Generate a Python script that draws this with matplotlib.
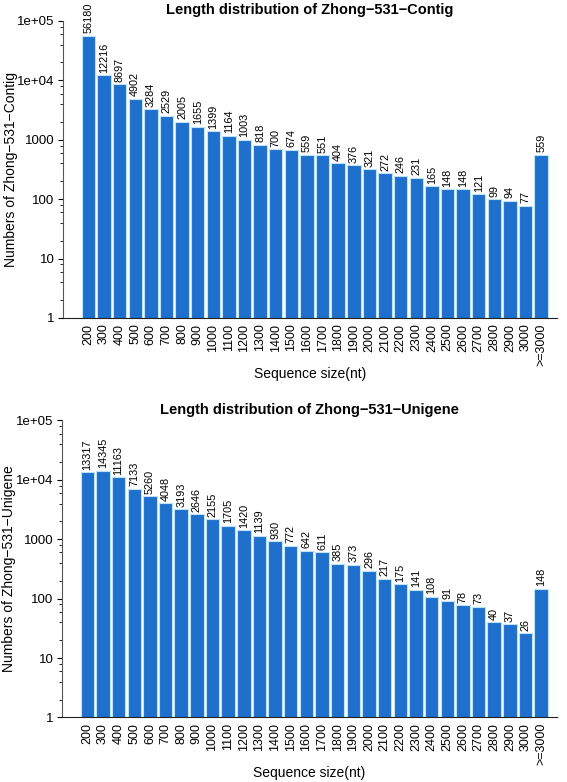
import matplotlib
matplotlib.use("Agg")
import matplotlib.pyplot as plt
from matplotlib.ticker import FixedLocator, NullFormatter
import numpy as np

plt.rcParams['font.family'] = ['Liberation Sans', 'DejaVu Sans']

# categories (sequence size bins)
sizes = [str(s) for s in range(200, 3001, 100)] + [">=3000"]

contig_counts = [56180, 12216, 8697, 4902, 3284, 2529, 2005, 1655, 1399, 1164,
                 1003, 818, 700, 674, 559, 551, 404, 376, 321, 272,
                 246, 231, 165, 148, 148, 121, 99, 94, 77, 559]
unigene_counts = [13317, 14345, 11163, 7133, 5260, 4048, 3193, 2646, 2155, 1705,
                  1420, 1139, 930, 772, 642, 611, 385, 373, 296, 217,
                  175, 141, 108, 91, 78, 73, 40, 37, 26, 148]

panels = [
    ("Length distribution of Zhong\u2212531\u2212Contig",
     "Numbers of Zhong\u2212531\u2212Contig", contig_counts),
    ("Length distribution of Zhong\u2212531\u2212Unigene",
     "Numbers of Zhong\u2212531\u2212Unigene", unigene_counts),
]

bar_color = "#1f6fcc"
edge_color = "#bde3f8"

fig = plt.figure(figsize=(5.67, 7.82), dpi=100)
rects = [[0.111, 0.5934, 0.871, 0.3798], [0.109, 0.0825, 0.873, 0.3798]]

for rect, (title, ylab, counts) in zip(rects, panels):
    ax = fig.add_axes(rect)
    x = np.arange(len(counts))
    ax.bar(x, counts, width=0.86, bottom=0, color=bar_color,
           edgecolor=edge_color, linewidth=0.8)
    ax.set_yscale("log")
    ax.set_ylim(1, 1e5)
    ax.set_xlim(-1.63, 30.0)

    major = [1, 10, 100, 1000, 1e4, 1e5]
    ax.yaxis.set_major_locator(FixedLocator(major))
    ax.set_yticklabels(["1", "10", "100", "1000", "1e+04", "1e+05"])
    minor = [m * d for d in [1, 10, 100, 1000, 1e4] for m in (2, 4, 6, 8)]
    ax.yaxis.set_minor_locator(FixedLocator(minor))
    ax.yaxis.set_minor_formatter(NullFormatter())
    ax.tick_params(axis="y", which="major", length=3.5, width=0.8, labelsize=9.5, pad=2.5)
    ax.tick_params(axis="y", which="minor", length=2, width=0.6)

    ax.set_xticks(x)
    ax.set_xticklabels(sizes, rotation=90, fontsize=9)
    ax.tick_params(axis="x", length=0, pad=4)

    for sp in ["top", "right"]:
        ax.spines[sp].set_visible(False)
    ax.spines["left"].set_color("#555555")
    ax.spines["bottom"].set_color("#222222")

    for xi, c in zip(x, counts):
        ax.text(xi, c * 1.1, str(c), rotation=90, ha="center", va="bottom",
                fontsize=7.8)

    ax.set_title(title, fontsize=10.5, fontweight="bold", pad=5)
    ax.set_ylabel(ylab, fontsize=10)
    ax.yaxis.set_label_coords(-0.092, 0.5)
    ax.set_xlabel("Sequence size(nt)", fontsize=10)
    ax.xaxis.set_label_coords(0.5, -0.165)

fig.savefig("out.png", dpi=100)
